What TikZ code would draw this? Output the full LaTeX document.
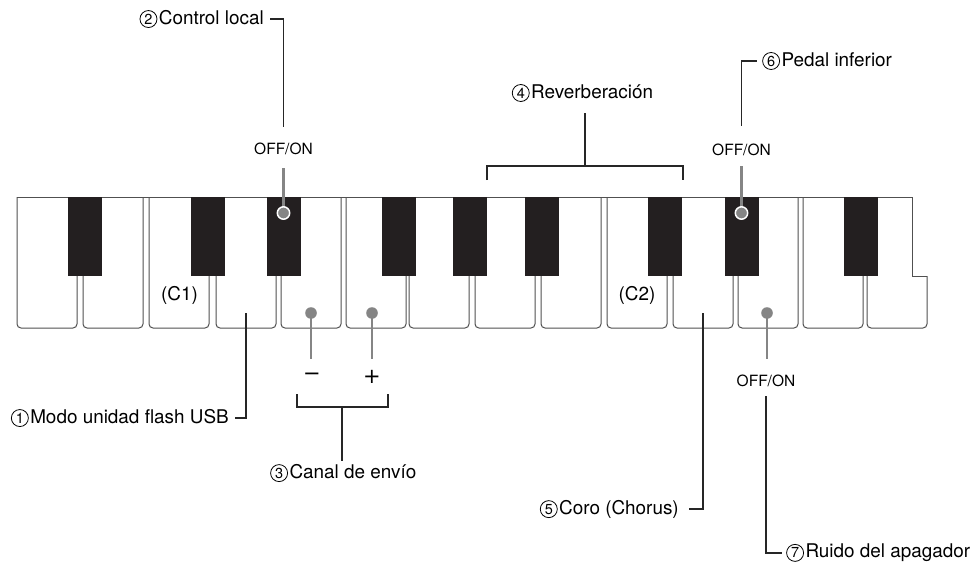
\documentclass[tikz,border=0pt]{standalone}
\usepackage{fontspec}
\setmainfont{TeX Gyre Heros}
\newfontfamily\circfont{DejaVu Sans}
\newcommand{\cnum}[1]{\tikz[baseline=(cn.base)]\node[draw, circle, line width=0.8pt, inner sep=0pt, minimum size=17pt, font=\fontsize{14.5}{14}\selectfont] (cn) {#1};\hspace{1.5pt}}
\definecolor{keyblack}{HTML}{231F20}
\definecolor{dotgray}{HTML}{858585}
\definecolor{keyline}{HTML}{505050}
\begin{document}
\begin{tikzpicture}[x=1pt,y=-1pt,
  lbl/.style={inner sep=0pt, font=\fontsize{18.9}{22}\selectfont},
  onoff/.style={inner sep=0pt, font=\fontsize{15.5}{18}\selectfont},
  sign/.style={inner sep=0pt, font=\circfont\fontsize{21}{22}\selectfont},
  conn/.style={line width=1.1pt, black!85},
  ind/.style={line width=2.6pt, dotgray},
  wkey/.style={line width=1pt, keyline, rounded corners=4pt},
  bkey/.style={fill=keyblack},
  bdot/.style={fill=dotgray, draw=white, line width=1.5pt},
  wdot/.style={fill=dotgray}]
\useasboundingbox (0,0) rectangle (974,567);
% white keys
\foreach \l in {17,83,149,216,281,346,409,475,541,607,673,738,803}
  \draw[wkey] (\l,197) -- (\l,328) -- ({\l+60},328) -- ({\l+60},197);
\draw[line width=1pt, keyline] (912,197) -- (912,276) -- (927,276);
\draw[wkey] (927,276) -- (927,328) -- (867,328) -- (867,197);
\draw[line width=1pt, keyline] (17,197) -- (912,197);
% black keys
\foreach \b in {68,191,267,382,453,525,648,725,844}
  \fill[bkey] (\b,197) rectangle ({\b+33.5},276);
% key labels
\node[lbl] (c1) at (179.5,295) {(C1)};
\node[lbl] (c2) at (637,295) {(C2)};
% (2) control local
\node[lbl, anchor=east] (l2) at (264,19) {\cnum{2}Control local};
\node[onoff] (off2) at (283.5,149) {OFF/ON};
\coordinate (t2) at (283.5,127);
\coordinate (u2) at (283.5,168);
\coordinate (d2) at (283.5,213);
\draw[conn] (l2.east) ++(6,0) -| (t2);
\draw[ind] (u2) -- (d2);
\fill[bdot] (d2) circle (6.2);
% (6) pedal inferior
\node[lbl, anchor=west] (l6) at (762,61) {\cnum{6}Pedal inferior};
\node[onoff] (off6) at (741.5,150) {OFF/ON};
\coordinate (t6) at (741.5,126);
\coordinate (u6) at (741.5,166);
\coordinate (d6) at (741.5,213);
\draw[conn] (t6) |- ([xshift=-5pt]l6.west);
\draw[ind] (u6) -- (d6);
\fill[bdot] (d6) circle (6.2);
% (4) reverberacion
\node[lbl] (l4) at (582.5,93) {\cnum{4}Reverberación};
\coordinate (r4a) at (487,180);
\coordinate (r4b) at (683,180);
\coordinate (r4m) at (585,166);
\coordinate (r4t) at (585,113);
\draw[conn] (r4a) |- (r4m) -| (r4b);
\draw[conn] (r4m) -- (r4t);
% (1) USB
\node[lbl, anchor=east] (l1) at (229,418) {\cnum{1}Modo unidad flash USB};
\coordinate (k1) at (246,313);
\draw[conn] (k1) |- ([xshift=6pt]l1.east);
% (3) canal
\coordinate (dm) at (311,313);
\coordinate (dp) at (372,313);
\draw[ind] (dm) -- (311,359);
\draw[ind] (dp) -- (372,359);
\fill[wdot] (dm) circle (5.8);
\fill[wdot] (dp) circle (5.8);
\node[sign] (minus) at (312,377) {−};
\node[sign] (plus) at (372,377) {+};
\coordinate (b3a) at (297,394);
\coordinate (b3b) at (388,394);
\coordinate (b3m) at (342,407);
\draw[conn] (b3a) |- (b3m) -| (b3b);
\node[lbl, anchor=west] (l3) at (270,473) {\cnum{3}Canal de envío};
\draw[conn] (b3m) -- (342,461);
% (5) coro
\coordinate (k5) at (703,313);
\node[lbl, anchor=east] (l5) at (679,509) {\cnum{5}Coro (Chorus)};
\draw[conn] (k5) |- ([xshift=10pt]l5.east);
% (7) ruido
\coordinate (d7) at (767,313);
\draw[ind] (d7) -- (767,359);
\fill[wdot] (d7) circle (5.8);
\node[onoff] (off7) at (766,381) {OFF/ON};
\node[lbl, anchor=west] (l7) at (786,553) {\cnum{7}Ruido del apagador};
\coordinate (t7) at (766,396);
\draw[conn] (t7) |- ([xshift=-4pt]l7.west);
\end{tikzpicture}
\end{document}
